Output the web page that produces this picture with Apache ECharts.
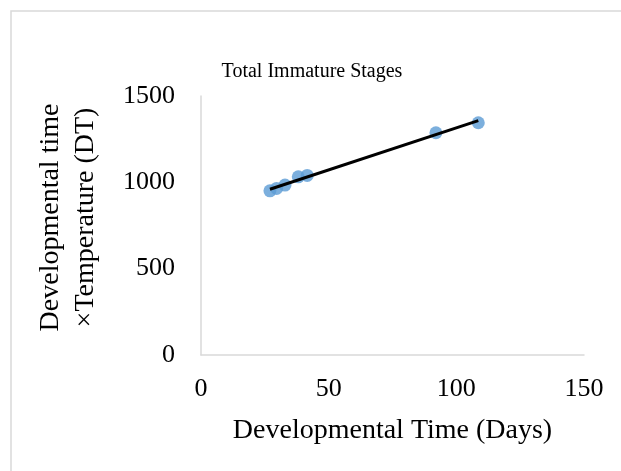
<!DOCTYPE html>
<html>
<head>
<meta charset="utf-8">
<script src="https://cdn.jsdelivr.net/npm/echarts@6/dist/echarts.min.js"></script>
<style>
  html, body { margin: 0; padding: 0; background: #fff; }
  #chart { width: 621px; height: 471px; }
</style>
</head>
<body>
<div id="chart"></div>
<script>
// 散点数据：发育时间(天) 与 DT
const days = [27.0, 29.6, 32.9, 38.1, 41.6, 92.0, 108.6]
const dtValues = [951, 965, 984, 1032, 1040, 1287, 1345]
// 趋势线两端（读图得到）
const trendDays = [27.0, 108.6]
const trendValues = [960, 1357]
const xTicks = [0, 50, 100, 150]
const yTicks = [0, 500, 1000, 1500]

const serif = '"Liberation Serif", "Times New Roman", serif'
const chart = echarts.init(document.getElementById('chart'))

const option = {
  animation: false,
  backgroundColor: '#fff',
  title: {
    text: 'Total Immature Stages',
    left: 307,
    textAlign: 'center',
    top: 57,
    textStyle: { fontFamily: serif, fontSize: 20, fontWeight: 'normal', color: '#000' }
  },
  // 外框只露出左边和上边
  graphic: [{
    type: 'rect',
    shape: { x: 11, y: 11, width: 640, height: 500 },
    style: { fill: 'none', stroke: '#d9d9d9', lineWidth: 1.5 },
    silent: true
  }],
  grid: { left: 201, right: 37, top: 96, bottom: 116, outerBoundsMode: 'none' },
  xAxis: {
    type: 'value',
    min: xTicks[0],
    max: xTicks[xTicks.length - 1],
    interval: 50,
    name: 'Developmental Time (Days)',
    nameLocation: 'middle',
    nameGap: 62,
    nameTextStyle: { fontFamily: serif, fontSize: 28, color: '#000' },
    axisLine: { show: true, lineStyle: { color: '#d9d9d9', width: 1.5 } },
    axisTick: { show: false },
    splitLine: { show: false },
    axisLabel: { margin: 21, fontFamily: serif, fontSize: 26, color: '#000', formatter: v => String(v) }
  },
  yAxis: {
    type: 'value',
    min: yTicks[0],
    max: yTicks[yTicks.length - 1],
    interval: 500,
    name: 'Developmental time\n×Temperature (DT)',
    nameLocation: 'middle',
    nameGap: 98,
    // 左侧留白让名称略微上移
    nameTextStyle: { fontFamily: serif, fontSize: 28, color: '#000', lineHeight: 35, padding: [0, 0, 0, 16] },
    axisLine: { show: true, lineStyle: { color: '#d9d9d9', width: 1.5 } },
    axisTick: { show: false },
    splitLine: { show: false },
    axisLabel: { margin: 26, fontFamily: serif, fontSize: 26, color: '#000', formatter: v => String(v) }
  },
  series: [
    {
      type: 'scatter',
      data: days.map((d, i) => [d, dtValues[i]]),
      symbolSize: 13,
      itemStyle: { color: '#5b9bd5' },
      z: 2
    },
    {
      type: 'line',
      data: trendDays.map((d, i) => [d, trendValues[i]]),
      symbol: 'none',
      lineStyle: { color: '#000', width: 3 },
      z: 3
    }
  ]
}
chart.setOption(option)
</script>
</body>
</html>
